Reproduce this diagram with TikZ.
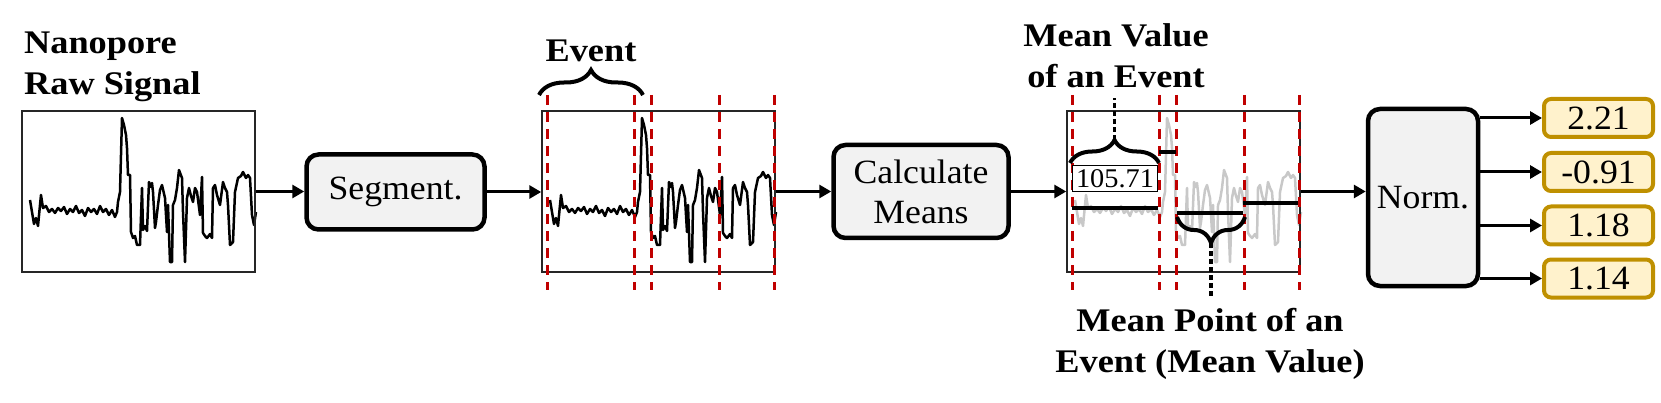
\documentclass[tikz,border=0pt]{standalone}
\usepackage{fontspec}
\setmainfont[FakeStretch=1.05,BoldFeatures={FakeStretch=1.1}]{Liberation Serif}
\usetikzlibrary{arrows.meta,decorations.pathreplacing}
\definecolor{dred}{RGB}{192,0,0}
\definecolor{goldb}{RGB}{191,144,0}
\definecolor{goldf}{RGB}{255,242,204}
\definecolor{boxf}{RGB}{242,242,242}
\definecolor{sgray}{RGB}{200,200,200}
\newcommand\sigpath{(30,200) -- (32,212) -- (34,224) -- (36,218) -- (38,226) -- (40,205) -- (41,195) -- (43,208) -- (46,206) -- (49,212) -- (52,209) -- (55,213) -- (58,208) -- (61,211) -- (64,207) -- (67,214) -- (70,209) -- (73,212) -- (76,206) -- (79,213) -- (82,210) -- (85,216) -- (88,208) -- (91,212) -- (94,209) -- (97,214) -- (100,206) -- (103,212) -- (106,209) -- (109,215) -- (112,210) -- (115,217) -- (117,212) -- (118,202) -- (120,192) -- (122,118) -- (124,125) -- (126,135) -- (127,148) -- (128,175) -- (130,175) -- (131,232) -- (133,238) -- (135,236) -- (137,245) -- (140,245) -- (142,188) -- (143,230) -- (145,226) -- (147,231) -- (149,182) -- (151,187) -- (152,183) -- (153,192) -- (155,228) -- (156,222) -- (158,205) -- (160,190) -- (162,185) -- (165,198) -- (167,232) -- (168,205) -- (170,262) -- (172,262) -- (173,205) -- (175,200) -- (177,188) -- (179,170) -- (182,178) -- (183,212) -- (185,262) -- (187,198) -- (189,188) -- (191,196) -- (193,202) -- (195,188) -- (197,192) -- (200,215) -- (202,177) -- (203,233) -- (205,236) -- (207,238) -- (210,234) -- (212,238) -- (213,188) -- (215,185) -- (217,195) -- (220,205) -- (223,182) -- (225,188) -- (227,192) -- (228,205) -- (230,245) -- (233,242) -- (235,192) -- (238,178) -- (241,176) -- (243,172) -- (246,178) -- (248,175) -- (250,178) -- (252,215) -- (254,225) -- (256,212)}
\begin{document}
\begin{tikzpicture}[x=1pt,y=-1pt,
 plotbox/.style={draw=black!85,line width=1.5pt,minimum width=233pt,minimum height=161pt,inner sep=0pt},
 procbox/.style={draw=black,line width=4.5pt,fill=boxf,rounded corners=12pt,inner sep=0pt,align=center,font=\fontsize{34}{40}\selectfont},
 outbox/.style={draw=goldb,line width=4pt,fill=goldf,rounded corners=7pt,minimum width=109pt,minimum height=38pt,inner sep=0pt,font=\fontsize{34}{41}\selectfont},
 arr/.style={line width=3pt,-{Triangle[length=12pt,width=13pt]}},
 sigline/.style={line width=2.5pt,line join=round},
 redcut/.style={dred,line width=3pt,dash pattern=on 10pt off 7pt},
 meanline/.style={line width=4pt},
 bracey/.style={line width=4pt,decorate,decoration={brace,amplitude=#1}},
 dotline/.style={line width=3.5pt,dash pattern=on 5pt off 3pt},
 title/.style={font=\fontsize{33}{41}\selectfont\bfseries,inner sep=0pt}
]
\useasboundingbox (0,0) rectangle (1661,403);

% signals
\draw[sigline] \sigpath;
\begin{scope}[shift={(520,0)}]
 \draw[sigline] \sigpath;
\end{scope}
\begin{scope}[shift={(1045,0)}]
 \draw[sigline,sgray] \sigpath;
\end{scope}

% plot frames
\node[plotbox] (raw) at (138.5,191.5) {};
\node[plotbox] (segd) at (658.5,191.5) {};
\node[plotbox] (meand) at (1183.5,191.5) {};

% red event cuts
\foreach \d in {6,93,110.5,178.5,233} {
  \draw[redcut] (541+\d,95) -- (541+\d,290);
  \draw[redcut] (1066+\d,95) -- (1066+\d,290);
}

% mean lines
\draw[meanline] (1072,208) -- (1158,208);
\draw[meanline] (1159,152) -- (1176,152);
\draw[meanline] (1177,213) -- (1243,213);
\draw[meanline] (1243,203) -- (1298,203);

% braces and pointers
\draw[bracey=25pt] (539,95) -- (643,95);
\draw[bracey=23pt] (1070,163) -- (1159,163);
\draw[bracey=26pt] (1245,217) -- (1177,217);
\coordinate (tipA) at (1114.5,140);
\coordinate (endA) at (1114.5,98);
\coordinate (tipB) at (1211,243);
\coordinate (endB) at (1211,297);
\draw[dotline] (tipA) -- (endA);
\draw[dotline] (tipB) -- (endB);
\node[draw,line width=1.5pt,fill=white,inner sep=0pt,minimum width=85pt,minimum height=26pt,font=\fontsize{27}{30}\selectfont] (mv) at (1115,178.5) {105.71};

% process boxes
\node[procbox,minimum width=178pt,minimum height=75pt] (seg) at (395.5,192) {Segment.};
\node[procbox,minimum width=175pt,minimum height=93pt] (calc) at (921,191.5) {Calculate\\Means};
\node[procbox,minimum width=110pt,minimum height=177pt] (norm) at (1423,197.5) {Norm.};

% outputs
\node[outbox] (o1) at (1598.5,118) {2.21};
\node[outbox] (o2) at (1598.5,172) {-0.91};
\node[outbox] (o3) at (1598.5,225.5) {1.18};
\node[outbox] (o4) at (1598.5,278.5) {1.14};

% arrows
\draw[arr] (raw.east) -- (raw.east -| seg.west);
\draw[arr] (seg.east) -- (seg.east -| segd.west);
\draw[arr] (segd.east) -- (segd.east -| calc.west);
\draw[arr] (calc.east) -- (calc.east -| meand.west);
\draw[arr] (meand.east) -- (meand.east -| norm.west);
\foreach \o in {o1,o2,o3,o4} {
  \draw[arr] (norm.east |- \o.west) -- (\o.west);
}

% titles (anchor=base is the baseline of the last line)
\node[title,anchor=base west,align=left] (t1) at (24,95) {Nanopore\\Raw Signal};
\node[title,anchor=base] (t2) at (591,62) {Event};
\node[title,anchor=base,align=center] (t3) at (1116,88) {Mean Value\\of an Event};
\node[title,anchor=base,align=center] (t4) at (1210,372) {Mean Point of an\\Event (Mean Value)};
\end{tikzpicture}
\end{document}
